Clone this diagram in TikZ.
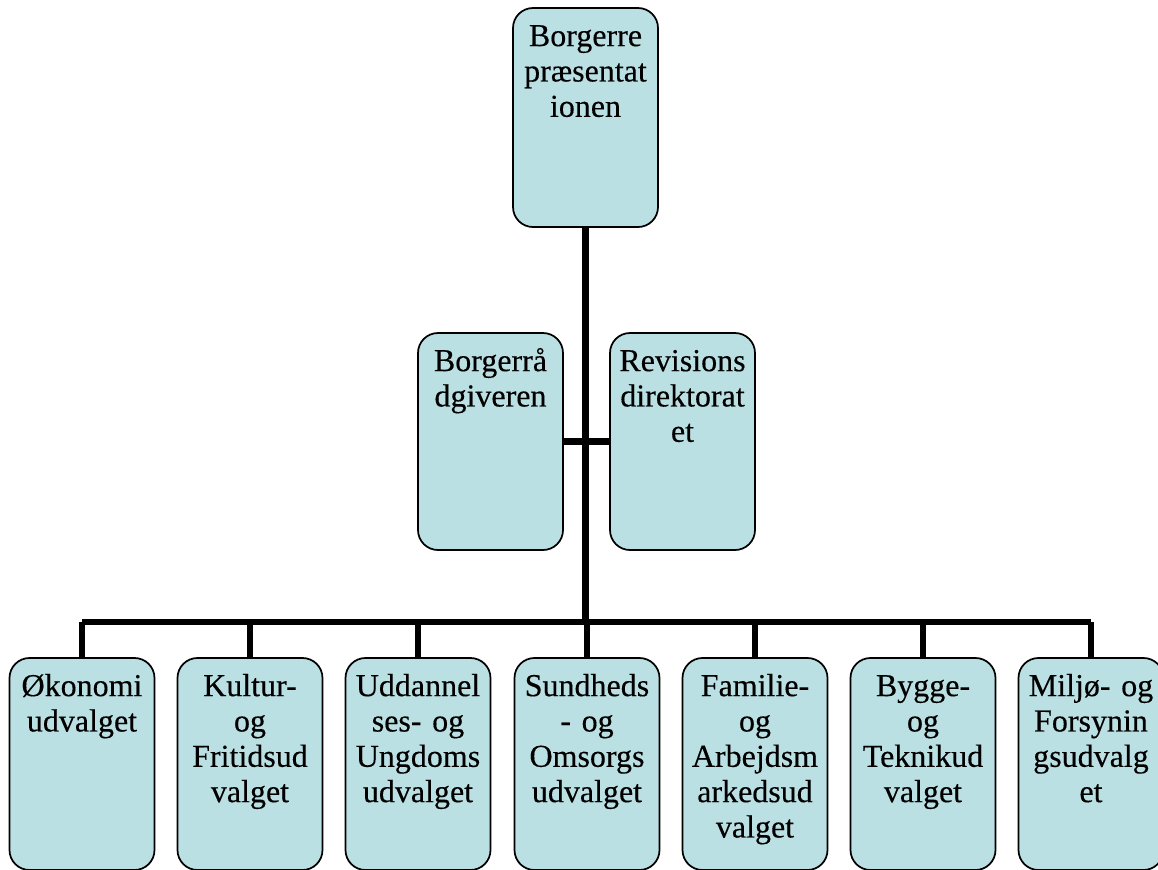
\documentclass[tikz,border=0pt]{standalone}
\usepackage{fontspec}
\setmainfont{Liberation Serif}[FakeBold=0.3]
\usetikzlibrary{calc}
\definecolor{unitfill}{RGB}{187,224,227}

\begin{document}
\begin{tikzpicture}[x=0.75pt,y=0.75pt,yscale=-1,xscale=1,
  unit/.style={draw=black, line width=1.3pt, fill=unitfill, rounded corners=15pt, minimum width=108.75pt, inner sep=0pt},
  unittxt/.style={anchor=base, text width=105pt, align=center, inner sep=0pt, font=\fontsize{24}{26.5}\selectfont},
  link/.style={line width=4.6pt}]

\useasboundingbox (0,0) rectangle (1158,869);

\node [unit, minimum height=164.25pt] (top) at (585.5,117.5) {};
\node [unit, minimum height=162.75pt] (raad) at (490.5,441.5) {};
\node [unit, minimum height=162.75pt] (rev) at (682.5,441.5) {};

\node [unit, minimum height=159pt] (oko) at (82,764) {};
\node [unit, minimum height=159pt] (kul) at (250,764) {};
\node [unit, minimum height=159pt] (udd) at (418,764) {};
\node [unit, minimum height=159pt] (sun) at (587,764) {};
\node [unit, minimum height=159pt] (fam) at (755,764) {};
\node [unit, minimum height=159pt] (byg) at (923,764) {};
\node [unit, minimum height=159pt] (mil) at (1091,764) {};

\coordinate (bus) at (587,622);

\draw [link, line width=5.2pt] (top.south) -- (top.south |- bus);
\draw [link] (raad.east) -- (rev.west);
\draw [link] (oko.north |- bus) -- (mil.north |- bus);
\draw [link] (oko.north) -- (oko.north |- bus);
\draw [link] (kul.north) -- (kul.north |- bus);
\draw [link] (udd.north) -- (udd.north |- bus);
\draw [link] (sun.north) -- (sun.north |- bus);
\draw [link] (fam.north) -- (fam.north |- bus);
\draw [link] (byg.north) -- (byg.north |- bus);
\draw [link] (mil.north) -- (mil.north |- bus);

\node [unittxt] (topt) at ($(top.north)+(0,39)$) {Borgerre\\præsentat\\ionen};
\node [unittxt] (raadt) at ($(raad.north)+(0,39)$) {Borgerrå\\dgiveren};
\node [unittxt] (revt) at ($(rev.north)+(0,39)$) {Revisions\\direktorat\\et};
\node [unittxt] (okot) at ($(oko.north)+(0,39)$) {Økonomi\\udvalget};
\node [unittxt] (kult) at ($(kul.north)+(0,39)$) {Kultur-\\og\\Fritidsud\\valget};
\node [unittxt] (uddt) at ($(udd.north)+(0,39)$) {Uddannel\\ses- og\\Ungdoms\\udvalget};
\node [unittxt] (sunt) at ($(sun.north)+(0,39)$) {Sundheds\\- og\\Omsorgs\\udvalget};
\node [unittxt] (famt) at ($(fam.north)+(0,39)$) {Familie-\\og\\Arbejdsm\\arkedsud\\valget};
\node [unittxt] (bygt) at ($(byg.north)+(0,39)$) {Bygge-\\og\\Teknikud\\valget};
\node [unittxt] (milt) at ($(mil.north)+(0,39)$) {Miljø- og\\Forsynin\\gsudvalg\\et};

\end{tikzpicture}
\end{document}
